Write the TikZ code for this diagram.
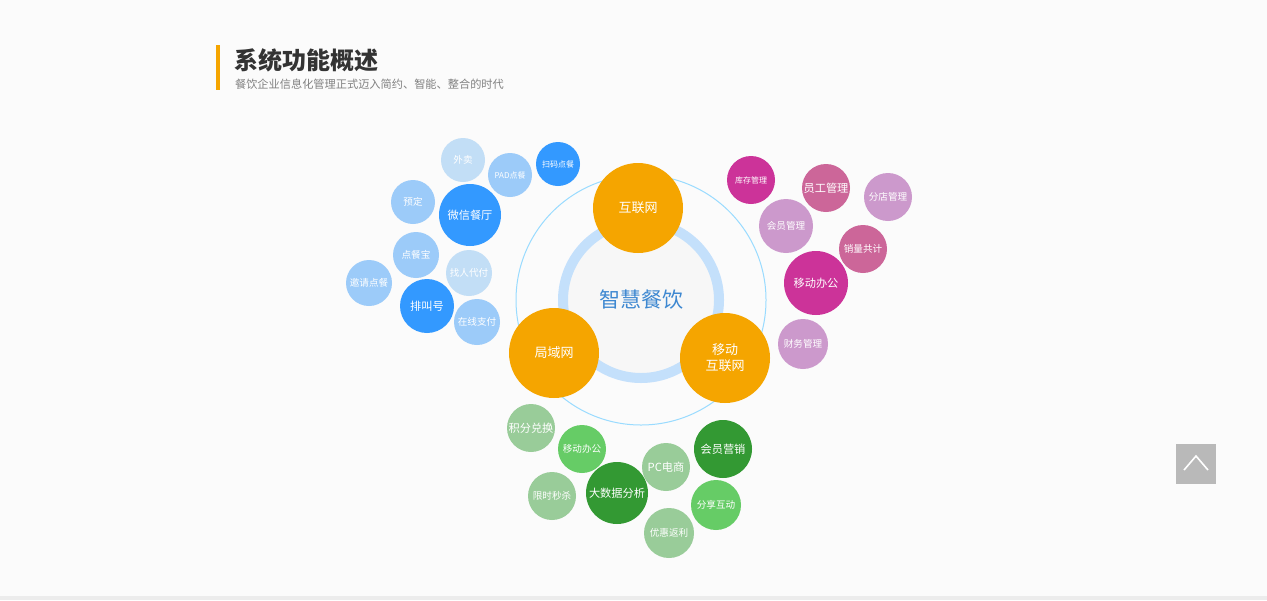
\documentclass[tikz,border=0pt]{standalone}
\usepackage{fontspec}
\setmainfont{Noto Sans CJK SC}
\begin{document}
\begin{tikzpicture}[x=0.5pt,y=-0.5pt,
bubble/.style={circle,inner sep=0pt,text=white,font=\fontsize{4.8}{5.5}\selectfont,align=center},
hub/.style={bubble,fill=hubor,minimum size=45pt,font=\fontsize{6.5}{8}\selectfont},
bsmall/.style={font=\fontsize{4}{4.5}\selectfont},
bbig/.style={font=\fontsize{5.6}{6.5}\selectfont}]

\definecolor{pagebg}{HTML}{FBFBFB}
\definecolor{hubor}{HTML}{F5A500}
\definecolor{bluea}{HTML}{C2DEF6}
\definecolor{blueb}{HTML}{9CCBF9}
\definecolor{bluec}{HTML}{3399FF}
\definecolor{pinka}{HTML}{CC99CC}
\definecolor{pinkb}{HTML}{CC6699}
\definecolor{pinkc}{HTML}{CC3399}
\definecolor{greena}{HTML}{99CC99}
\definecolor{greenb}{HTML}{66CC66}
\definecolor{greenc}{HTML}{339933}

\fill[pagebg] (0,0) rectangle (1267,600);
\useasboundingbox (0,0) rectangle (1267,600);
\fill[gray!15] (0,596) rectangle (1267,600);

% heading
\fill[hubor] (216,45) rectangle (220,90);
\node[anchor=west,font=\fontsize{12}{14}\selectfont\bfseries,text=black!80] (title) at (227,60) {系统功能概述};
\node[anchor=west,font=\fontsize{5.6}{7}\selectfont,text=black!50] (subtitle) at (228,84) {餐饮企业信息化管理正式迈入简约、智能、整合的时代};

% centre
\draw[blue!35!cyan!40,line width=0.5pt] (641,300) circle (125);
\draw[blueb!60,line width=5pt,fill=gray!6] (641,300) circle (78);
\node[text=bluec!80!black!90,font=\fontsize{10.5}{13}\selectfont] (core) at (641,300) {智慧餐饮};
\node[hub] (web) at (638,208) {互联网};
\node[hub] (lan) at (554,353) {局域网};
\node[hub] (mobile) at (725,358) {移动\\互联网};

% blue group
\node[bubble,fill=bluea,minimum size=22pt] (takeout) at (463,160) {外卖};
\node[bubble,bsmall,fill=blueb,minimum size=22pt] (pad) at (510,175) {PAD点餐};
\node[bubble,bsmall,fill=bluec,minimum size=22pt] (scan) at (558,164) {扫码点餐};
\node[bubble,fill=blueb,minimum size=22pt] (booking) at (413,202) {预定};
\node[bubble,bbig,fill=bluec,minimum size=31pt] (wechat) at (470,215) {微信餐厅};
\node[bubble,fill=blueb,minimum size=23pt] (ordbox) at (416,255) {点餐宝};
\node[bubble,fill=bluea,minimum size=23pt] (payfor) at (469,273) {找人代付};
\node[bubble,fill=blueb,minimum size=23pt] (invite) at (369,283) {邀请点餐};
\node[bubble,bbig,fill=bluec,minimum size=27pt] (queue) at (427,306) {排叫号};
\node[bubble,fill=blueb,minimum size=23pt] (online) at (477,322) {在线支付};

% pink group
\node[bubble,bsmall,fill=pinkc,minimum size=24pt] (stock) at (751,180) {库存管理};
\node[bubble,bbig,fill=pinkb,minimum size=24pt] (staff) at (826,188) {员工管理};
\node[bubble,fill=pinka,minimum size=24pt] (branch) at (888,197) {分店管理};
\node[bubble,fill=pinka,minimum size=27pt] (member) at (786,226) {会员管理};
\node[bubble,fill=pinkb,minimum size=24pt] (sales) at (863,249) {销量共计};
\node[bubble,bbig,fill=pinkc,minimum size=32pt] (office) at (816,283) {移动办公};
\node[bubble,fill=pinka,minimum size=25pt] (finance) at (803,344) {财务管理};

% green group
\node[bubble,bbig,fill=greena,minimum size=24pt] (points) at (531,428) {积分兑换};
\node[bubble,fill=greenb,minimum size=24pt] (moboff) at (582,449) {移动办公};
\node[bubble,fill=greena,minimum size=24pt] (flash) at (552,496) {限时秒杀};
\node[bubble,bbig,fill=greenc,minimum size=31pt] (bigdata) at (617,493) {大数据分析};
\node[bubble,bbig,fill=greena,minimum size=24pt] (pcshop) at (666,467) {PC电商};
\node[bubble,bbig,fill=greenc,minimum size=29pt] (mkt) at (723,449) {会员营销};
\node[bubble,fill=greenb,minimum size=25pt] (share) at (716,505) {分享互动};
\node[bubble,fill=greena,minimum size=25pt] (rebate) at (669,533) {优惠返利};

% back-to-top button
\fill[gray!55] (1176,444) rectangle (1216,484);
\draw[white,line width=0.8pt] (1184,470) -- (1196,456) -- (1208,470);
\end{tikzpicture}
\end{document}
